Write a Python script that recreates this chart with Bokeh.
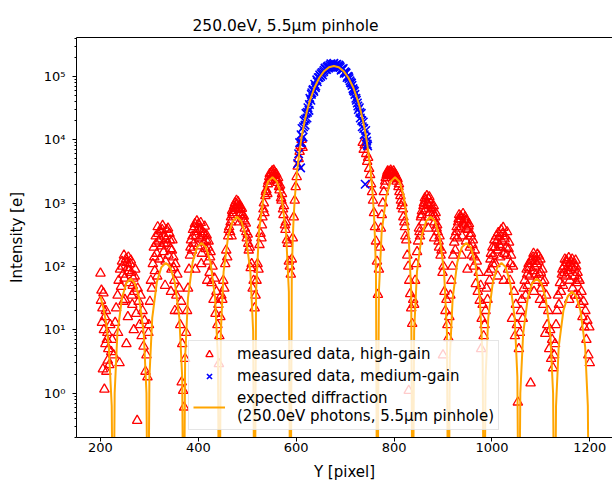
from bokeh.plotting import figure
from bokeh.models import Range1d, LinearAxis, FixedTicker, Legend, LegendItem
from bokeh.embed import file_html
from bokeh.resources import INLINE

title_text = "250.0eV, 5.5\u03bcm pinhole"
x_label = "Y [pixel]"
y_label = "Intensity [e]"
x_ticks = [200, 400, 600, 800, 1000, 1200]
y_ticks = [1, 10, 100, 1000, 10000, 100000]
y_tick_labels = ["10\u2070", "10\u00b9", "10\u00b2", "10\u00b3", "10\u2074", "10\u2075"]
labels = ["measured data, high-gain", "measured data, medium-gain",
          "expected diffraction\n(250.0eV photons, 5.5\u03bcm pinhole)"]

# measured data, high-gain (red triangles)
x_hg = [
    200, 201, 202, 203, 204, 205, 206, 207, 208, 209, 210, 212, 214, 216, 218, 220, 222, 224,
    227, 230, 232, 235, 237, 239, 240, 242, 244, 246, 248, 250, 252, 253, 255, 257, 259, 261, 263,
    265, 267, 269, 271, 273, 275, 276, 278, 280, 282, 284, 286, 288, 290, 292, 294, 296, 298,
    299, 301, 303, 305, 307, 309, 311, 313, 315, 317, 319, 321, 323, 325, 327, 329, 331, 333, 335,
    337, 339, 341, 343, 345, 347, 349, 351, 353, 355, 357, 359, 361, 363, 365, 366, 367, 369, 371,
    373, 375,
    377, 379, 381, 383, 385, 387, 389, 391, 393, 395, 397, 399, 401, 403, 405, 407, 409, 411, 413,
    415, 417, 419, 421, 423, 425, 427, 429, 431, 433, 435, 437, 439, 441, 442, 443, 445, 447,
    449, 451, 453, 455, 457, 459, 461, 463, 465, 467, 469, 471, 473, 475, 477, 479, 481, 483, 485,
    487, 489, 491, 493, 495, 497, 499, 501, 503, 505, 507, 509, 511, 513, 515, 517,
    519, 521, 523, 525, 527, 529, 531, 533, 535, 537, 539, 541, 543, 545, 547, 549, 551, 553, 555,
    557, 559, 561, 563, 565, 567, 569, 571, 573, 575, 577, 579, 581, 583, 585, 587, 589, 591, 593,
    595, 597, 599, 601, 603, 605, 607, 609, 611, 613,
    736, 738, 740, 743, 745, 747, 749, 751, 753, 755, 757, 759, 761, 763, 765, 767, 769, 771, 773,
    775, 777, 779, 781, 783, 785, 787, 789, 791, 793, 795, 797, 799, 801, 803, 805, 807, 809, 811,
    813, 815, 817, 819, 821, 823, 825, 827, 829, 830, 831, 833, 835, 837, 839, 841,
    843, 845, 847, 849, 851, 853, 855, 857, 859, 861, 863, 865, 867, 869, 871, 873, 875, 877, 879,
    881, 883, 885, 887, 889, 891, 893, 895, 897, 899, 900, 901, 903, 905, 907, 909, 911, 913,
    915, 917, 919, 921, 923, 925, 927, 929, 931, 933, 935, 937, 939, 941, 943, 945, 947, 949, 951,
    953, 955, 957, 959, 961, 963, 965, 967, 969, 971, 973, 975, 977, 978, 979, 981, 983, 985,
    987, 989, 991, 993, 995, 997, 999, 1001, 1003, 1005, 1007, 1009, 1011, 1013, 1015, 1017, 1019,
    1021, 1023, 1025, 1027, 1029, 1031, 1033, 1035, 1037, 1039, 1041, 1043, 1045, 1047, 1049, 1051,
    1053, 1055, 1057, 1059,
    1061, 1063, 1065, 1067, 1069, 1071, 1073, 1075, 1077, 1079, 1081, 1083, 1085, 1087, 1089, 1091,
    1093, 1095, 1097, 1099, 1101, 1103, 1105, 1107, 1109, 1111, 1113, 1115, 1117, 1119, 1121, 1123,
    1125, 1127, 1129, 1131,
    1133, 1135, 1137, 1139, 1141, 1143, 1145, 1147, 1149, 1151, 1153, 1155, 1157, 1159, 1161, 1163,
    1165, 1167, 1169, 1171, 1173, 1175, 1177, 1179, 1181, 1183, 1185, 1187, 1189, 1191, 1193, 1195,
    1197, 1199, 1200,
]
y_hg = [
    78, 29, 42, 13, 22, 2.4, 38, 10, 1.15, 16, 6, 2.2, 9, 5, 2.8, 12, 4.5, 7,
    4, 13, 22, 35, 60, 3, 90, 48, 120, 75, 150, 30, 130, 6, 95, 140, 55, 110, 80,
    25, 65, 40, 90, 18, 0.37, 45, 28, 12, 35, 8, 20, 5.5, 14, 2.2, 4, 1.8, 9,
    12, 28, 60, 45, 110, 200, 85, 300, 160, 420, 250, 130, 360, 210, 440, 170, 300, 120, 380,
    230, 150, 330, 190, 90, 260, 140, 60, 110, 35, 75, 20, 45, 12, 28, 1.5, 6, 1.1, 0.6,
    3.5, 9,
    20, 45, 90, 150, 260, 180, 380, 230, 470, 300, 520, 210, 400, 280, 490, 160, 350, 240, 430,
    190, 310, 120, 250, 80, 170, 55, 100, 30, 65, 18, 40, 12, 25, 2.9, 8, 16, 35,
    30, 60, 45, 110, 180, 140, 300, 420, 350, 600, 760, 650, 900, 1000, 820, 950, 1050, 780, 900,
    700, 820, 560, 620, 400, 480, 280, 320, 180, 200, 95, 110, 45, 60, 22, 35,
    60, 110, 90, 220, 330, 280, 600, 800, 700, 1300, 1600, 1400, 2200, 2600, 2300, 3000, 3200, 2800, 3100,
    2700, 2900, 2300, 2500, 1800, 1900, 1200, 1400, 800, 900, 450, 500, 260, 230, 120, 100, 75, 130, 280,
    600, 1100, 1800, 2600, 3800, 5000, 6500, 8000, 10000, 7500,
    9000, 7000, 8200, 6000, 4500, 5200, 3500, 2800, 2000, 1500, 1100, 700, 420, 250, 120, 36, 90, 200, 400,
    650, 1000, 1500, 1900, 2500, 2800, 3200, 2900, 3100, 3300, 2800, 3000, 3200, 2600, 2700, 2200, 2400, 1800, 1500,
    1300, 900, 1000, 600, 500, 300, 260, 150, 100, 1.1, 60, 37, 22, 12.5, 30, 25,
    60, 110, 170, 250, 400, 300, 600, 750, 500, 1000, 1200, 800, 1300, 950, 1150, 700, 1000, 850, 600,
    900, 500, 700, 400, 350, 250, 300, 150, 180, 80, 4, 100, 40, 20, 30, 12, 7.5, 16,
    35, 60, 100, 150, 240, 180, 350, 280, 500, 650, 400, 560, 300, 680, 450, 600, 250, 520, 380,
    470, 200, 330, 150, 260, 100, 180, 53, 120, 40, 80, 29, 50, 5, 15, 25, 8, 12,
    20, 45, 30, 80, 60, 130, 90, 200, 150, 260, 110, 300, 180, 340, 220, 140, 380,
    250, 410, 160, 300, 200, 350, 90, 240, 60, 150, 15, 100, 40, 8, 25, 12,
    0.72, 5, 9, 20,
    30, 15, 45, 60, 35, 90, 50, 110, 70, 1.44, 130, 85, 160, 100, 140, 60,
    155, 120, 75, 130, 45, 90, 25, 60, 8.7, 35, 12, 20, 5, 10, 3.5, 7,
    2.5, 4, 6, 12,
    20, 35, 25, 55, 40, 75, 50, 100, 130, 70, 115, 85, 137, 60, 120, 95,
    45, 110, 70, 125, 55, 80, 35, 60, 25, 40, 16, 28, 11, 20, 7, 14,
    4, 11, 3,
]
# further high-gain readings in the crowded lobe tops
x_hg2 = [
    211, 213, 215,
    236, 245, 247, 249, 254, 256, 258, 262, 264, 266, 268, 270,
    310, 314, 316, 318, 322, 326, 330, 332, 334, 338, 342, 344, 346, 350, 352,
    384, 388, 392, 394, 396, 400, 404, 406, 408, 412, 416, 418, 420, 424,
    462, 466, 468, 470, 474, 478, 482, 484, 486, 490, 494, 498, 502,
    530, 534, 538, 542, 546, 550, 554, 558, 562, 566, 570, 574, 578,
    782, 786, 790, 794, 798, 802, 806, 810, 814, 818, 822,
    852, 856, 860, 864, 868, 870, 872, 876, 880, 882, 884, 888, 892,
    924, 928, 932, 936, 938, 940, 944, 948, 950, 952, 956, 960, 964,
    998, 1002, 1006, 1010, 1012, 1014, 1018, 1022, 1024, 1026, 1030, 1034, 1038,
    1072, 1076, 1080, 1084, 1086, 1088, 1090, 1092, 1096, 1098, 1100, 1104,
    1144, 1148, 1152, 1156, 1158, 1160, 1164, 1168, 1170, 1172, 1176,
]
y_hg2 = [
    20, 7, 3.3,
    9, 100, 28, 65, 115, 16, 85, 125, 35, 50, 10, 70,
    140, 230, 70, 330, 270, 380, 230, 50, 270, 400, 260, 40, 180, 95, 20,
    200, 300, 420, 90, 350, 460, 380, 110, 300, 330, 260, 60, 200, 140,
    380, 500, 300, 700, 820, 1100, 900, 500, 850, 650, 520, 350, 230,
    450, 1000, 1500, 2000, 2900, 2600, 3300, 2500, 2100, 1600, 1100, 650, 380,
    2200, 3000, 2700, 3100, 2700, 2900, 2500, 2000, 1100, 800, 420,
    350, 650, 900, 1100, 1000, 400, 1250, 800, 700, 280, 600, 450, 200,
    300, 420, 560, 620, 150, 480, 550, 400, 90, 430, 300, 220, 140,
    160, 110, 200, 250, 70, 290, 200, 330, 60, 270, 150, 190, 110,
    75, 95, 120, 140, 40, 120, 75, 110, 145, 30, 80, 55,
    90, 80, 125, 100, 30, 110, 130, 90, 35, 100, 65,
]

# measured data, medium-gain (blue crosses)
x_mg = [603, 605, 607, 609, 610, 612, 614, 616, 618, 620, 622, 624, 626, 628, 630,
        632, 634, 636, 638, 640, 642, 645, 648, 651, 654, 657, 660, 663, 666, 669,
        672, 675, 678, 681, 684, 687, 690, 693, 696, 699, 702, 705, 708, 711, 714,
        717, 720, 723, 725, 727, 729, 731, 733, 735, 737, 739, 741, 742, 744, 746,
        611, 615, 619, 623, 627, 631, 635, 639, 643, 647, 650, 653, 656, 659, 662,
        665, 668, 671, 674, 677, 680, 683, 686, 689, 692, 695, 698, 701, 704, 707,
        710, 713, 716, 719, 722, 726, 730, 734, 738, 743, 745]
y_mg = [4200, 6000, 9000, 3600, 12000, 15000, 11000, 20000, 17000, 26000, 22000, 32000, 29000, 45000, 42000,
        55000, 60000, 58000, 75000, 70000, 88000, 95000, 105000, 110000, 105000, 125000, 130000, 140000, 135000, 150000,
        145000, 155000, 148000, 152000, 142000, 150000, 138000, 130000, 133000, 118000, 112000, 100000, 92000, 80000, 72000,
        60000, 52000, 42000, 38000, 30000, 32000, 22000, 26000, 16000, 19000, 12000, 1980, 14000, 9500, 8000,
        9000, 16000, 21000, 27000, 36000, 52000, 62000, 66000, 82000, 96000, 100000, 115000, 118000, 135000, 128000,
        145000, 140000, 158000, 140000, 160000, 145000, 155000, 140000, 145000, 125000, 128000, 112000, 115000, 96000, 98000,
        85000, 78000, 64000, 58000, 45000, 34000, 27000, 20000, 15000, 11000, 8500]

# expected diffraction (orange line); 0.001 marks the zeros of the pattern
Z = 0.001
x_exp = [200, 206, 212, 217, 223, 226,
         229, 234.5, 244, 253, 261.5, 270, 279, 288.5, 294, 297,
         300, 305.8, 315.3, 324.4, 333.5, 342.6, 351.8, 361.2, 367, 370,
         373, 378.8, 388.3, 397.4, 406.5, 415.6, 424.8, 434.2, 440, 443,
         446, 451.6, 461, 470, 479, 488, 497, 506.4, 512, 515,
         518, 523.8, 533.3, 542.4, 551.5, 560.6, 569.8, 579.2, 585, 588.4,
         591, 593, 595, 597, 599, 602, 607, 612, 617, 622, 627, 637, 647, 657, 667, 677,
         687, 697, 707, 717, 727, 732, 737, 742, 747, 752, 755, 757, 759, 761, 763, 765.6,
         769, 774.6, 784, 793, 802, 811, 820, 829.4, 835, 838,
         841, 846.8, 856.3, 865.4, 874.5, 883.6, 892.8, 902.2, 908, 911,
         914, 919.8, 929.3, 938.4, 947.5, 956.6, 965.8, 975.2, 981, 984,
         987, 992.5, 1002, 1011, 1019.5, 1028, 1037, 1046.5, 1052, 1055,
         1058, 1063.8, 1073.3, 1082.4, 1091.5, 1100.6, 1109.8, 1119.2, 1125, 1128,
         1131, 1136.5, 1146, 1155, 1163.5, 1172, 1181, 1190.5, 1196, 1199, 1200]
y_exp = [34, 22, 12.3, 5.4, 0.63, Z,
         1.0, 8.7, 32, 54.7, 64, 54.7, 32, 8.7, 1.0, Z,
         1.8, 15.4, 57, 97.4, 114, 97.4, 57, 15.4, 1.8, Z,
         3.7, 31.7, 117, 200, 234, 200, 117, 31.7, 3.7, Z,
         9.5, 82, 303, 518, 607, 518, 303, 82, 9.5, Z,
         40, 346, 1278, 2182, 2555, 2182, 1278, 346, 40, Z,
         81, 275, 645, 1140, 1825, 3250, 6800, 12100, 19200, 28200, 39200, 65400, 94200, 120600, 139300, 146000,
         139300, 120600, 94200, 65400, 39200, 28200, 19200, 12100, 6800, 3250, 1825, 1140, 645, 275, 81, Z,
         40, 346, 1278, 2182, 2555, 2182, 1278, 346, 40, Z,
         9.5, 82, 303, 518, 607, 518, 303, 82, 9.5, Z,
         3.7, 31.7, 117, 200, 234, 200, 117, 31.7, 3.7, Z,
         1.8, 15.4, 57, 97.4, 114, 97.4, 57, 15.4, 1.8, Z,
         1.0, 8.7, 32, 54.7, 64, 54.7, 32, 8.7, 1.0, Z,
         0.63, 5.4, 20, 34, 40, 34, 20, 5.4, 0.63, Z, Z]

FONT = "DejaVu Sans"

p = figure(width=612, height=483, x_range=Range1d(151, 1246.4), y_range=Range1d(0.2, 4.1e5),
           y_axis_type="log", output_backend="svg", toolbar_location=None,
           min_border_left=76, min_border_right=0, min_border_top=37, min_border_bottom=46)
p.grid.visible = False
p.outline_line_color = None
p.background_fill_color = "white"
p.border_fill_color = "white"

p.title.text = title_text
p.title.text_font = FONT
p.title.text_font_size = "15.5px"
p.title.text_font_style = "normal"
p.title.text_color = "black"
p.title.align = "left"
p.title.offset = 116
p.title.standoff = 6

xa = p.below[0]
ya = p.left[0]

top_axis = LinearAxis(ticker=FixedTicker(ticks=[]), major_label_text_font_size="0px",
                      major_tick_line_color=None, minor_tick_line_color=None,
                      major_label_standoff=0, axis_line_color="black", axis_line_width=1)
p.add_layout(top_axis, "above")

xa.ticker = FixedTicker(ticks=x_ticks)
xa.axis_label = x_label
minor = [m * 10 ** k for k in range(-1, 6) for m in range(2, 10)]
ya.ticker = FixedTicker(ticks=y_ticks, minor_ticks=minor)
ya.major_label_overrides = dict(zip(y_ticks, y_tick_labels))
ya.axis_label = y_label
for ax in (xa, ya):
    ax.axis_line_color = "black"
    ax.axis_line_width = 1
    ax.major_tick_line_color = "black"
    ax.major_tick_out = 4
    ax.major_tick_in = 0
    ax.minor_tick_out = 2
    ax.minor_tick_in = 0
    ax.major_label_text_font = FONT
    ax.major_label_text_font_size = "13px"
    ax.major_label_text_color = "black"
    ax.axis_label_text_font = FONT
    ax.axis_label_text_font_size = "15px"
    ax.axis_label_text_font_style = "normal"
    ax.axis_label_text_color = "black"
xa.minor_tick_line_color = None
ya.minor_tick_line_color = "black"
xa.major_label_standoff = 1
xa.axis_label_standoff = 8
ya.major_label_standoff = 7
ya.axis_label_standoff = 15

r_hg = p.scatter(x_hg + x_hg2, y_hg + y_hg2, marker="triangle", size=9.5, fill_color=None,
                 line_color="red", line_width=1.3)
r_mg = p.scatter(x_mg, y_mg, marker="x", size=12, line_color="blue", line_width=1.6)
r_exp = p.line(x_exp, y_exp, line_color="orange", line_width=2)

legend = Legend(items=[LegendItem(label=labels[0], renderers=[r_hg]),
                       LegendItem(label=labels[1], renderers=[r_mg]),
                       LegendItem(label=labels[2], renderers=[r_exp])],
                location=(112, 7))
legend.label_text_font = FONT
legend.label_text_font_size = "15px"
legend.label_text_color = "black"
legend.border_line_color = "#cccccc"
legend.border_line_width = 1
legend.background_fill_color = "white"
legend.background_fill_alpha = 0.8
legend.glyph_width = 32
legend.glyph_height = 18
legend.label_height = 18
legend.label_standoff = 12
legend.spacing = 4
legend.padding = 4
legend.margin = 0
p.add_layout(legend)

open("out.html", "w").write(file_html(p, INLINE))
